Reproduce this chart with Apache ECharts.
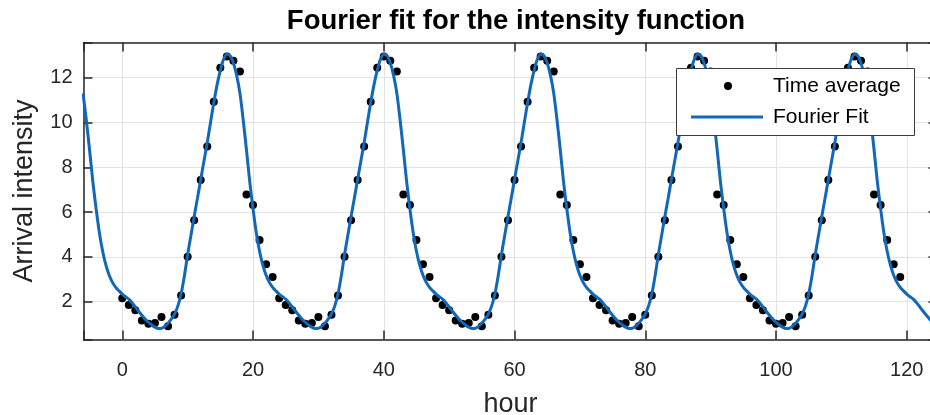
<!DOCTYPE html>
<html>
<head>
<meta charset="utf-8">
<title>Fourier fit for the intensity function</title>
<script src="https://cdn.jsdelivr.net/npm/echarts@6/dist/echarts.min.js"></script>
<style>
  html, body { margin: 0; padding: 0; background: #ffffff; }
  #chart { width: 930px; height: 415px; }
</style>
</head>
<body>
<div id="chart"></div>
<script>
// ---- data -------------------------------------------------------------
// Hourly time averages of the arrival intensity, hours 0..119 (five days)
const avgStartHour = 0;
const timeAverage = [
  2.15, 1.85, 1.62, 1.16, 1.01, 1.05, 1.31, 0.90, 1.41, 2.27, 4.01, 5.63, 7.43, 8.93, 10.93, 12.44, 12.95, 12.75, 12.27, 6.78, 6.32, 4.75, 3.67, 3.10,
  2.15, 1.85, 1.62, 1.16, 1.01, 1.05, 1.31, 0.90, 1.41, 2.27, 4.01, 5.63, 7.43, 8.93, 10.93, 12.44, 12.95, 12.75, 12.27, 6.78, 6.32, 4.75, 3.67, 3.10,
  2.15, 1.85, 1.62, 1.16, 1.01, 1.05, 1.31, 0.90, 1.41, 2.27, 4.01, 5.63, 7.43, 8.93, 10.93, 12.44, 12.95, 12.75, 12.27, 6.78, 6.32, 4.75, 3.67, 3.10,
  2.15, 1.85, 1.62, 1.16, 1.01, 1.05, 1.31, 0.90, 1.41, 2.27, 4.01, 5.63, 7.43, 8.93, 10.93, 12.44, 12.95, 12.75, 12.27, 6.78, 6.32, 4.75, 3.67, 3.10,
  2.15, 1.85, 1.62, 1.16, 1.01, 1.05, 1.31, 0.90, 1.41, 2.27, 4.01, 5.63, 7.43, 8.93, 10.93, 12.44, 12.95, 12.75, 12.27, 6.78, 6.32, 4.75, 3.67, 3.10
];

// Fourier fit sampled every half hour from hour -6 to 124.5
const fitStartHour = -6;
const fitStepHours = 0.5;
const fourierFit = [
  11.30, 10.11, 8.77, 7.35, 6.15, 5.08, 4.25, 3.63, 3.18, 2.86, 2.64, 2.48,
  // day 1
  2.34, 2.22, 2.11, 1.95, 1.76, 1.57, 1.39, 1.22, 1.08, 0.96, 0.86, 0.80, 0.81, 0.90, 1.04, 1.22, 1.45, 1.80, 2.35, 3.15, 4.10, 4.95, 5.80, 6.62,
  7.45, 8.28, 9.10, 10.00, 10.88, 11.68, 12.33, 12.82, 13.05, 12.98, 12.65, 12.10, 11.30, 10.11, 8.77, 7.35, 6.15, 5.08, 4.25, 3.63, 3.18, 2.86, 2.64, 2.48,
  // day 2
  2.34, 2.22, 2.11, 1.95, 1.76, 1.57, 1.39, 1.22, 1.08, 0.96, 0.86, 0.80, 0.81, 0.90, 1.04, 1.22, 1.45, 1.80, 2.35, 3.15, 4.10, 4.95, 5.80, 6.62,
  7.45, 8.28, 9.10, 10.00, 10.88, 11.68, 12.33, 12.82, 13.05, 12.98, 12.65, 12.10, 11.30, 10.11, 8.77, 7.35, 6.15, 5.08, 4.25, 3.63, 3.18, 2.86, 2.64, 2.48,
  // day 3
  2.34, 2.22, 2.11, 1.95, 1.76, 1.57, 1.39, 1.22, 1.08, 0.96, 0.86, 0.80, 0.81, 0.90, 1.04, 1.22, 1.45, 1.80, 2.35, 3.15, 4.10, 4.95, 5.80, 6.62,
  7.45, 8.28, 9.10, 10.00, 10.88, 11.68, 12.33, 12.82, 13.05, 12.98, 12.65, 12.10, 11.30, 10.11, 8.77, 7.35, 6.15, 5.08, 4.25, 3.63, 3.18, 2.86, 2.64, 2.48,
  // day 4
  2.34, 2.22, 2.11, 1.95, 1.76, 1.57, 1.39, 1.22, 1.08, 0.96, 0.86, 0.80, 0.81, 0.90, 1.04, 1.22, 1.45, 1.80, 2.35, 3.15, 4.10, 4.95, 5.80, 6.62,
  7.45, 8.28, 9.10, 10.00, 10.88, 11.68, 12.33, 12.82, 13.05, 12.98, 12.65, 12.10, 11.30, 10.11, 8.77, 7.35, 6.15, 5.08, 4.25, 3.63, 3.18, 2.86, 2.64, 2.48,
  // day 5
  2.34, 2.22, 2.11, 1.95, 1.76, 1.57, 1.39, 1.22, 1.08, 0.96, 0.86, 0.80, 0.81, 0.90, 1.04, 1.22, 1.45, 1.80, 2.35, 3.15, 4.10, 4.95, 5.80, 6.62,
  7.45, 8.28, 9.10, 10.00, 10.88, 11.68, 12.33, 12.82, 13.05, 12.98, 12.65, 12.10, 11.30, 10.11, 8.77, 7.35, 6.15, 5.08, 4.25, 3.63, 3.18, 2.86, 2.64, 2.48,
  // start of day 6
  2.34, 2.22, 2.11, 1.95, 1.76, 1.57, 1.39, 1.22, 1.08, 0.96
];

// Axis limits and tick labels
const xLimits = [-5.93, 124.7];
const yLimits = [0.31, 13.57];
const xTickLabels = [0, 20, 40, 60, 80, 100, 120];
const yTickLabels = [2, 4, 6, 8, 10, 12];

const seriesNames = ['Time average', 'Fourier Fit'];
const titleText = 'Fourier fit for the intensity function';
const xAxisName = 'hour';
const yAxisName = 'Arrival intensity';

// ---- styling ------------------------------------------------------------
const FONT = '"Liberation Sans", Arial, Helvetica, sans-serif';
const AXIS_COLOR = '#262626';
const GRID_COLOR = '#e3e3e3';
const FIT_COLOR = '#1268b8';
const PLOT = { left: 83.5, top: 42.5, width: 854, height: 297 };

const pointData = timeAverage.map((v, i) => [avgStartHour + i, v]);
const fitData = fourierFit.map((v, i) => [fitStartHour + i * fitStepHours, v]);

const isTick = (list) => (v) => list.some(t => Math.abs(t - v) < 1e-6) ? String(Math.round(v)) : '';

const axisLineStyle = { show: true, onZero: false, lineStyle: { color: AXIS_COLOR, width: 1.5 } };
const axisTickStyle = { show: true, inside: true, length: 9, lineStyle: { color: AXIS_COLOR, width: 1.5 } };

const chart = echarts.init(document.getElementById('chart'), null, { renderer: 'canvas' });

chart.setOption({
  backgroundColor: '#ffffff',
  animation: false,
  textStyle: { fontFamily: FONT },
  title: {
    text: titleText,
    left: 511,
    top: 2,
    textAlign: 'center',
    textStyle: { fontFamily: FONT, fontSize: 27.5, fontWeight: 'bold', color: '#000000' }
  },
  grid: {
    left: PLOT.left, top: PLOT.top, width: PLOT.width, height: PLOT.height,
    containLabel: false, outerBoundsMode: 'none'
  },
  xAxis: [
    {
      type: 'value', position: 'bottom',
      min: xLimits[0], max: xLimits[1], minInterval: 20, maxInterval: 20,
      name: xAxisName, nameLocation: 'middle', nameGap: 52,
      nameTextStyle: { fontFamily: FONT, fontSize: 27, color: AXIS_COLOR },
      axisLine: axisLineStyle,
      axisTick: axisTickStyle,
      axisLabel: { margin: 21, fontFamily: FONT, fontSize: 20, color: AXIS_COLOR, formatter: isTick(xTickLabels) },
      splitLine: { show: true, lineStyle: { color: GRID_COLOR, width: 1 } }
    },
    {
      type: 'value', position: 'top',
      min: xLimits[0], max: xLimits[1], minInterval: 20, maxInterval: 20,
      axisLine: axisLineStyle,
      axisTick: axisTickStyle,
      axisLabel: { show: false },
      splitLine: { show: false }
    }
  ],
  yAxis: [
    {
      type: 'value', position: 'left',
      min: yLimits[0], max: yLimits[1], minInterval: 2, maxInterval: 2,
      name: yAxisName, nameLocation: 'middle', nameGap: 45.5,
      nameTextStyle: { fontFamily: FONT, fontSize: 27, color: AXIS_COLOR },
      axisLine: axisLineStyle,
      axisTick: axisTickStyle,
      axisLabel: { margin: 11, fontFamily: FONT, fontSize: 20, color: AXIS_COLOR, formatter: isTick(yTickLabels) },
      splitLine: { show: true, lineStyle: { color: GRID_COLOR, width: 1 } }
    },
    {
      type: 'value', position: 'right',
      min: yLimits[0], max: yLimits[1], minInterval: 2, maxInterval: 2,
      axisLine: axisLineStyle,
      axisTick: axisTickStyle,
      axisLabel: { show: false },
      splitLine: { show: false }
    }
  ],
  series: [
    {
      name: seriesNames[0],
      type: 'scatter',
      xAxisIndex: 0, yAxisIndex: 0,
      data: pointData,
      symbol: 'circle',
      symbolSize: 8,
      itemStyle: { color: '#000000', opacity: 1 },
      z: 3
    },
    {
      name: seriesNames[1],
      type: 'line',
      xAxisIndex: 0, yAxisIndex: 0,
      data: fitData,
      showSymbol: false,
      smooth: 0.3,
      clip: true,
      lineStyle: { color: FIT_COLOR, width: 3 },
      itemStyle: { color: FIT_COLOR },
      z: 4
    }
  ],
  // legend box in the upper right corner of the axes
  graphic: [
    { type: 'rect', z: 100, shape: { x: 676.5, y: 68.5, width: 238, height: 67 },
      style: { fill: '#ffffff', stroke: '#3a3a3a', lineWidth: 1 } },
    { type: 'circle', z: 101, shape: { cx: 728, cy: 86, r: 4 }, style: { fill: '#000000' } },
    { type: 'text', z: 101, x: 773, y: 86,
      style: { text: seriesNames[0], fill: '#000000', font: '21px ' + FONT, verticalAlign: 'middle' } },
    { type: 'line', z: 101, shape: { x1: 691, y1: 117, x2: 763, y2: 117 },
      style: { stroke: FIT_COLOR, lineWidth: 3 } },
    { type: 'text', z: 101, x: 773, y: 117,
      style: { text: seriesNames[1], fill: '#000000', font: '21px ' + FONT, verticalAlign: 'middle' } }
  ]
});
</script>
</body>
</html>
